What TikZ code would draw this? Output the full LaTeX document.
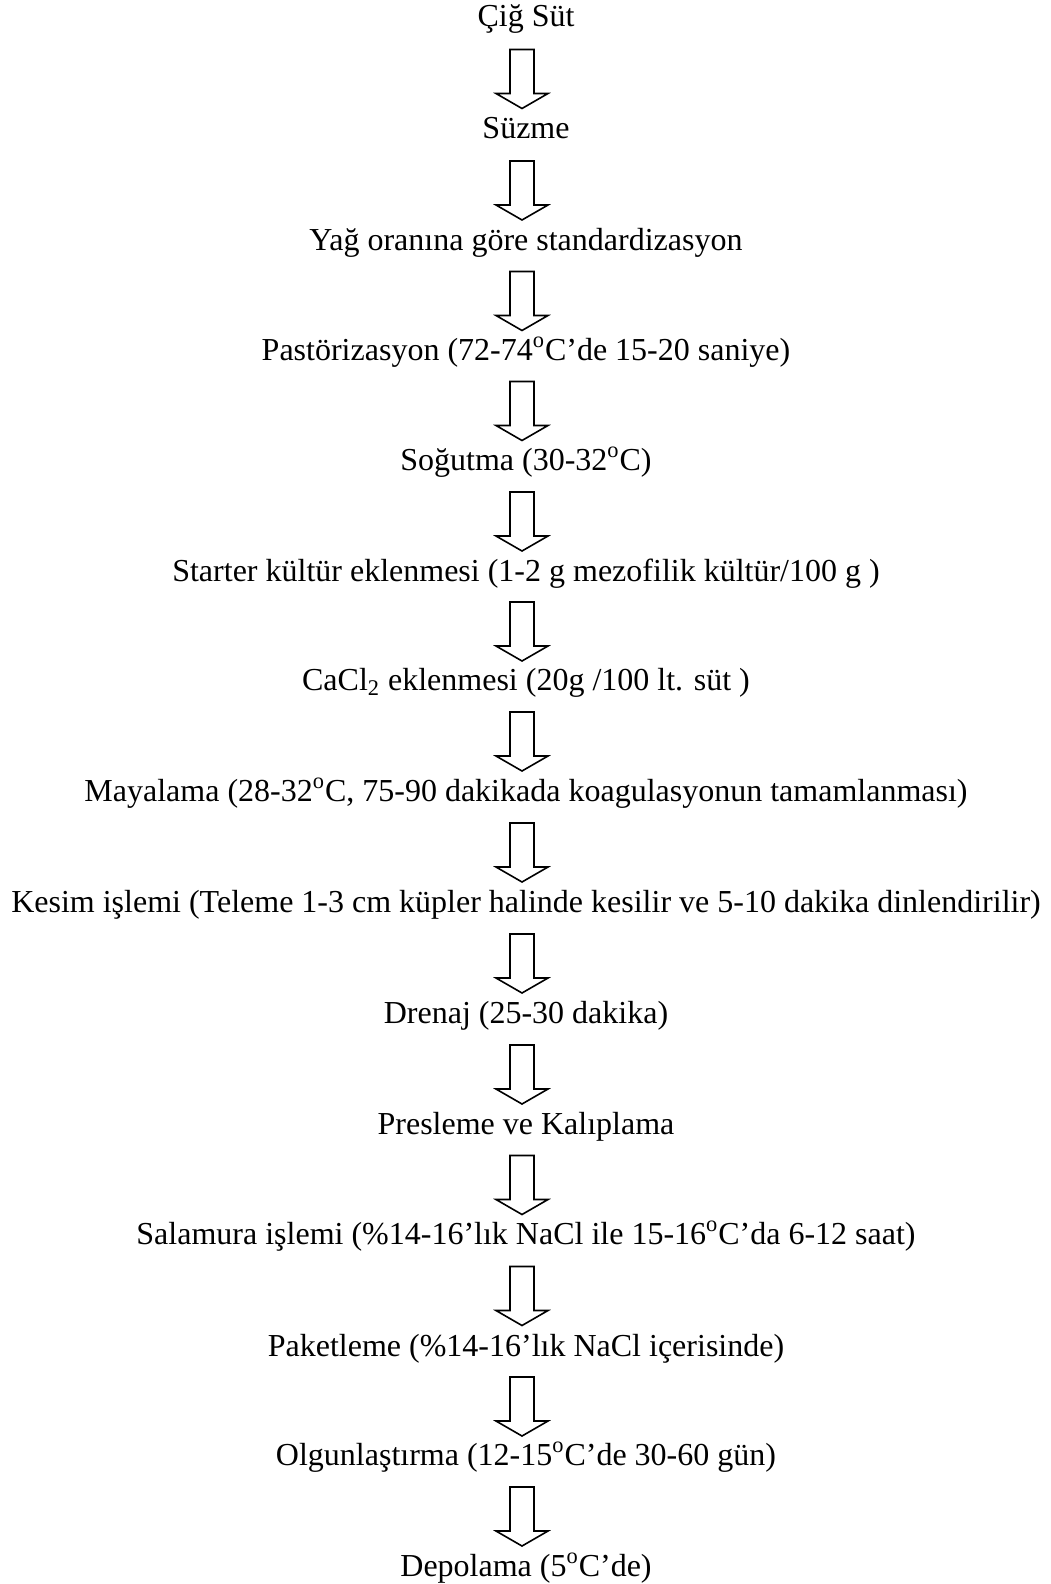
\documentclass[tikz,border=0pt]{standalone}
\usepackage{fontspec}
\setmainfont{Liberation Serif}
\usetikzlibrary{positioning, calc}

\begin{document}
\begin{tikzpicture}[
stepnode/.style={anchor=base, inner sep=0pt, font=\fontsize{16}{19}\selectfont},
blockarrow/.style={draw=black, line width=0.8pt, fill=white, line join=miter},
]

\tikzset{
  pics/downarrow/.style={
     code={
	     \draw [blockarrow] (-6pt,14.75pt) -- (6pt,14.75pt) -- (6pt,-7.25pt) -- (13pt,-7.25pt) -- (0,-14.75pt) -- (-13pt,-7.25pt) -- (-6pt,-7.25pt) -- cycle;
     }
  }
}

\useasboundingbox (0,0) rectangle (525pt,-792pt);

%Nodes
\node [stepnode] (raw) at (263pt,-13.5pt) {Çiğ Süt};
\node [stepnode] (filter) at (263pt,-69.5pt) {Süzme};
\node [stepnode] (standard) at (263pt,-125pt) {Yağ oranına göre standardizasyon};
\node [stepnode] (pasteur) at (263pt,-180pt) {Pastörizasyon (72-74\textsuperscript{o}C’de 15-20 saniye)};
\node [stepnode] (cool) at (263pt,-235pt) {Soğutma (30-32\textsuperscript{o}C)};
\node [stepnode] (starter) at (263pt,-290.5pt) {Starter kültür eklenmesi (1-2 g mezofilik kültür/100 g )};
\node [stepnode] (cacl) at (263pt,-345pt) {CaCl\textsubscript{2} eklenmesi (20g /100 lt. süt )};
\node [stepnode] (rennet) at (263pt,-400.5pt) {Mayalama (28-32\textsuperscript{o}C, 75-90 dakikada koagulasyonun tamamlanması)};
\node [stepnode] (cut) at (263pt,-456pt) {Kesim işlemi (Teleme 1-3 cm küpler halinde kesilir ve 5-10 dakika dinlendirilir)};
\node [stepnode] (drain) at (263pt,-511.5pt) {Drenaj (25-30 dakika)};
\node [stepnode] (press) at (263pt,-567pt) {Presleme ve Kalıplama};
\node [stepnode] (brine) at (263pt,-622pt) {Salamura işlemi (\%14-16’lık NaCl ile 15-16\textsuperscript{o}C’da 6-12 saat)};
\node [stepnode] (pack) at (263pt,-678pt) {Paketleme (\%14-16’lık NaCl içerisinde)};
\node [stepnode] (ripen) at (263pt,-732.5pt) {Olgunlaştırma (12-15\textsuperscript{o}C’de 30-60 gün)};
\node [stepnode] (store) at (263pt,-788pt) {Depolama (5\textsuperscript{o}C’de)};

% Arrows
\foreach \a/\b in {raw/filter, filter/standard, standard/pasteur, pasteur/cool, cool/starter, starter/cacl, cacl/rennet, rennet/cut, cut/drain, drain/press, press/brine, brine/pack, pack/ripen, ripen/store}
  \pic at ($(\a.base)!0.5!(\b.base)+(-2pt,2pt)$) {downarrow};
\end{tikzpicture}
\end{document}
